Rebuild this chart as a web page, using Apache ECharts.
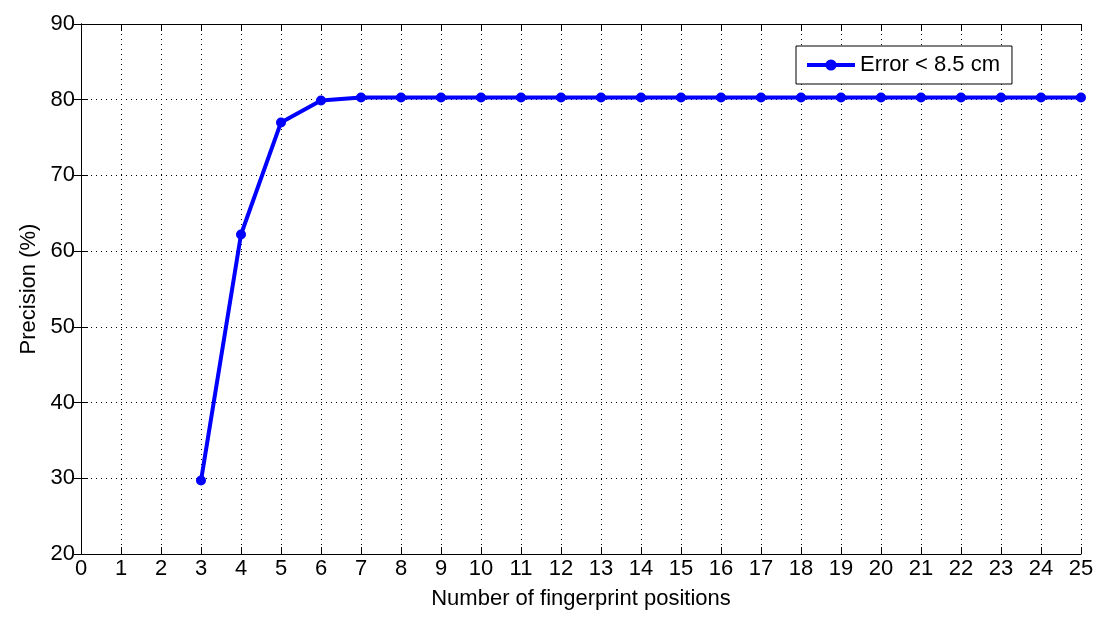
<!DOCTYPE html>
<html>
<head>
<meta charset="utf-8">
<script src="https://cdn.jsdelivr.net/npm/echarts@6/dist/echarts.min.js"></script>
<style>html,body{margin:0;padding:0;background:#fff;}#c{width:1113px;height:625px;}</style>
</head>
<body>
<div id="c"></div>
<script>
var positions = [3,4,5,6,7,8,9,10,11,12,13,14,15,16,17,18,19,20,21,22,23,24,25];
var precision = [29.7,62.2,77.0,79.9,80.3,80.3,80.3,80.3,80.3,80.3,80.3,80.3,80.3,80.3,80.3,80.3,80.3,80.3,80.3,80.3,80.3,80.3,80.3];
var seriesName = 'Error < 8.5 cm';
var xTitle = 'Number of fingerprint positions';
var yTitle = 'Precision (%)';

var data = positions.map(function(x,i){return [x, precision[i]];});
var font = 'Liberation Sans, Arial, sans-serif';
var chart = echarts.init(document.getElementById('c'), null, {renderer:'canvas'});
var axisLine = {show:true, lineStyle:{color:'#000', width:1}};
var tick = {show:true, inside:true, length:7, lineStyle:{color:'#000', width:1}};
var grid = {show:true, lineStyle:{color:'#000', type:[1,4], width:1}};
chart.setOption({
  animation:false,
  backgroundColor:'#fff',
  grid:{left:81, right:32, top:24, bottom:71, containLabel:false},
  legend:{
    left:796, top:46, orient:'vertical',
    data:[seriesName],
    itemWidth:48, itemHeight:14, itemGap:0,
    padding:[8,12,8,9],
    borderColor:'#000', borderWidth:1, backgroundColor:'#fff', borderRadius:0,
    lineStyle:{width:4},
    textStyle:{fontFamily:font, fontSize:22, color:'#000'}
  },
  xAxis:[{
    type:'value', min:0, max:25, interval:1,
    name:xTitle, nameLocation:'middle', nameGap:34,
    nameTextStyle:{fontFamily:font, fontSize:22, color:'#000'},
    axisLine:axisLine, axisTick:tick, splitLine:grid,
    axisLabel:{fontFamily:font, fontSize:22, color:'#000', margin:4}
  },{
    type:'value', min:0, max:25, interval:1, position:'top',
    axisLine:axisLine, axisTick:tick, splitLine:{show:false}, axisLabel:{show:false}
  }],
  yAxis:[{
    type:'value', min:20, max:90, interval:10,
    name:yTitle, nameLocation:'middle', nameGap:36,
    nameTextStyle:{fontFamily:font, fontSize:22, color:'#000'},
    axisLine:axisLine, axisTick:tick, splitLine:grid,
    axisLabel:{fontFamily:font, fontSize:22, color:'#000', margin:6}
  },{
    type:'value', min:20, max:90, interval:10, position:'right',
    axisLine:axisLine, axisTick:tick, splitLine:{show:false}, axisLabel:{show:false}
  }],
  series:[{
    name:seriesName, type:'line', data:data,
    xAxisIndex:0, yAxisIndex:0,
    symbol:'circle', symbolSize:10, showAllSymbol:true,
    lineStyle:{color:'#0000ff', width:4},
    itemStyle:{color:'#0000ff'},
    z:5
  }]
});
</script>
</body>
</html>
